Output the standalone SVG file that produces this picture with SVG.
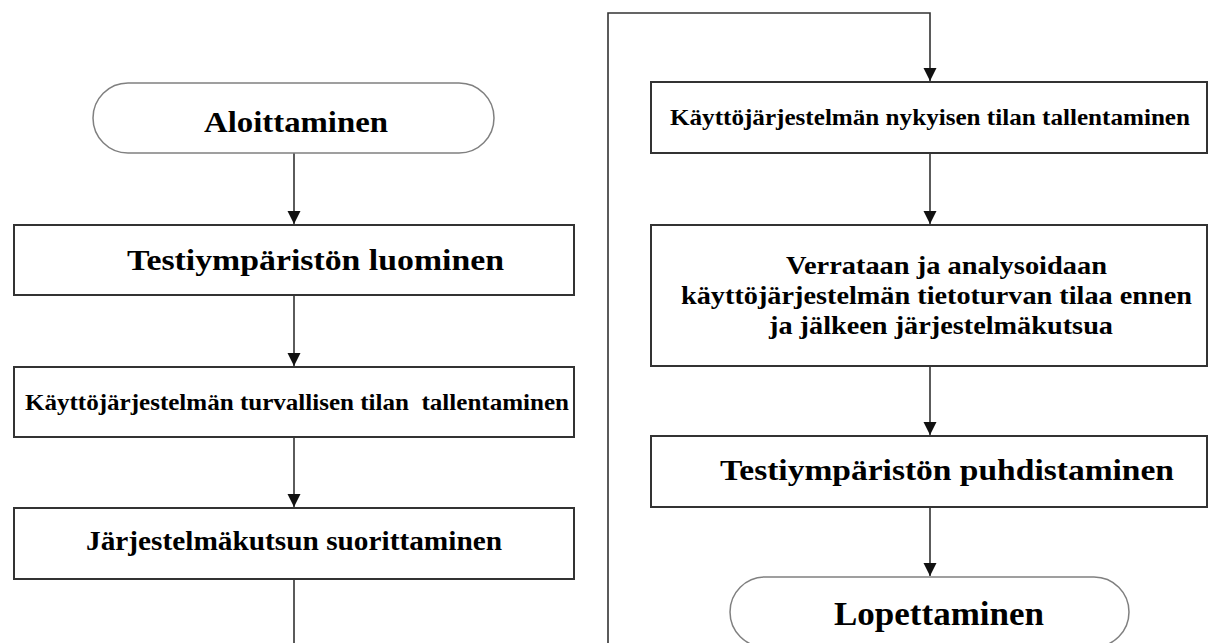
<svg xmlns="http://www.w3.org/2000/svg" width="1214" height="643" viewBox="0 0 1214 643">
<defs>
<style>
.box{fill:#fff;stroke:#333;stroke-width:2}
.pill{fill:#fff;stroke:#808080;stroke-width:1.5}
.conn{fill:none;stroke:#333;stroke-width:1.6}
.t{font-family:"Liberation Serif","Times New Roman",serif;font-weight:bold;fill:#000}
</style>
<marker id="arr" markerUnits="userSpaceOnUse" markerWidth="14" markerHeight="14" viewBox="0 0 14 14" refX="13" refY="7" orient="auto">
<path d="M0,0.5 L13,7 L0,13.5 Z" fill="#111"/>
</marker>
</defs>
<rect width="1214" height="643" fill="#fff"/>
<g id="connectors">
<path class="conn" d="M294 153 V224" marker-end="url(#arr)"/>
<path class="conn" d="M294 295 V366" marker-end="url(#arr)"/>
<path class="conn" d="M294 437 V507" marker-end="url(#arr)"/>
<path class="conn" d="M294 579 V660 H608 V13 H930 V81" marker-end="url(#arr)"/>
<path class="conn" d="M930 153 V224" marker-end="url(#arr)"/>
<path class="conn" d="M930 366 V435" marker-end="url(#arr)"/>
<path class="conn" d="M930 507 V576" marker-end="url(#arr)"/>
</g>
<g id="start">
<rect class="pill" x="93" y="83" width="401" height="70" rx="35" ry="35"/>
<text class="t" x="204" y="132" font-size="30" textLength="184" lengthAdjust="spacingAndGlyphs">Aloittaminen</text>
</g>
<g id="create-env">
<rect class="box" x="14" y="225" width="560" height="70"/>
<text class="t" x="127" y="270" font-size="30" textLength="377" lengthAdjust="spacingAndGlyphs">Testiympäristön luominen</text>
</g>
<g id="save-safe-state">
<rect class="box" x="14" y="367" width="560" height="70"/>
<text class="t" x="25" y="410" font-size="24" textLength="544" lengthAdjust="spacingAndGlyphs" xml:space="preserve">Käyttöjärjestelmän turvallisen tilan  tallentaminen</text>
</g>
<g id="execute-syscall">
<rect class="box" x="14" y="508" width="560" height="71"/>
<text class="t" x="86" y="550" font-size="27" textLength="416" lengthAdjust="spacingAndGlyphs">Järjestelmäkutsun suorittaminen</text>
</g>
<g id="save-current-state">
<rect class="box" x="651" y="82" width="556" height="71"/>
<text class="t" x="670" y="125" font-size="24" textLength="520" lengthAdjust="spacingAndGlyphs">Käyttöjärjestelmän nykyisen tilan tallentaminen</text>
</g>
<g id="compare-analyse">
<rect class="box" x="651" y="225" width="556" height="141"/>
<text class="t" x="786" y="274" font-size="26" textLength="321" lengthAdjust="spacingAndGlyphs">Verrataan ja analysoidaan</text>
<text class="t" x="681" y="304" font-size="26" textLength="511" lengthAdjust="spacingAndGlyphs">käyttöjärjestelmän tietoturvan tilaa ennen</text>
<text class="t" x="769" y="334" font-size="26" textLength="344" lengthAdjust="spacingAndGlyphs">ja jälkeen järjestelmäkutsua</text>
</g>
<g id="clean-env">
<rect class="box" x="651" y="436" width="556" height="71"/>
<text class="t" x="720" y="480" font-size="30" textLength="454" lengthAdjust="spacingAndGlyphs">Testiympäristön puhdistaminen</text>
</g>
<g id="end">
<rect class="pill" x="730" y="577" width="399" height="70" rx="35" ry="35"/>
<text class="t" x="834" y="625" font-size="33" textLength="210" lengthAdjust="spacingAndGlyphs">Lopettaminen</text>
</g>
</svg>
